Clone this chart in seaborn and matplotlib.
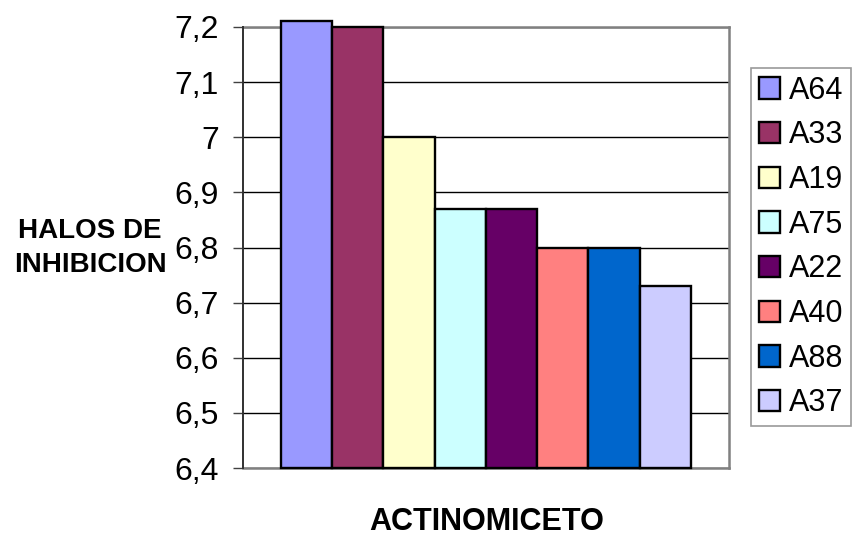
import matplotlib
matplotlib.use("Agg")
import matplotlib.pyplot as plt
import pandas as pd
import seaborn as sns

# Inhibition halo per actinomycete strain
strains = ["A64", "A33", "A19", "A75", "A22", "A40", "A88", "A37"]
halos = [7.21, 7.2, 7.0, 6.87, 6.87, 6.8, 6.8, 6.73]
colors = ["#9999FF", "#993366", "#FFFFCC", "#CCFFFF",
          "#660066", "#FF8080", "#0066CC", "#CCCCFF"]
group = "ACTINOMICETO"
y_ticks = [6.4, 6.5, 6.6, 6.7, 6.8, 6.9, 7.0, 7.1, 7.2]

df = pd.DataFrame({"grupo": [group] * len(strains),
                   "cepa": strains,
                   "halo": halos})

sns.set_theme(style="white")
plt.rcParams["font.family"] = ["Liberation Sans", "DejaVu Sans"]
plt.rcParams["text.color"] = "black"

W, H = 853, 540
fig = plt.figure(figsize=(W / 100, H / 100), dpi=100)
ax = fig.add_axes([243 / W, 72 / H, 486 / W, 441 / H])

sns.barplot(data=df, x="grupo", y="halo", hue="cepa", hue_order=strains,
            palette=colors, saturation=1, width=410 / 486, errorbar=None,
            edgecolor="black", linewidth=1.7, legend=False, ax=ax, zorder=3)

# bars rise from the bottom of the value axis
base = y_ticks[0]
bars = list(ax.patches)
for p in bars:
    top = p.get_y() + p.get_height()
    p.set_y(base)
    p.set_height(top - base)
    p.set_clip_on(False)

ax.set_xlim(-0.5, 0.5)
ax.set_ylim(y_ticks[0], y_ticks[-1])
ax.set_yticks(y_ticks)
ax.set_yticklabels([f"{round(v, 1):g}".replace(".", ",") for v in y_ticks])
ax.set_xticks([])
ax.set_xlabel("")
ax.set_ylabel("")

ax.yaxis.grid(True, color="black", linewidth=1.0, zorder=1)
ax.set_axisbelow(True)
for side in ["top", "right", "bottom"]:
    ax.spines[side].set_color("#808080")
    ax.spines[side].set_linewidth(1.8)
    ax.spines[side].set_zorder(2)
ax.spines["left"].set_color("#303030")
ax.spines["left"].set_linewidth(1.4)

ax.tick_params(axis="y", direction="out", length=7, width=1.0,
               color="#404040", pad=10.5, labelsize=23, labelcolor="black",
               left=True)

fig.text(90 / W, 1 - 248 / H, "HALOS DE\nINHIBICION", ha="center",
         va="center", multialignment="center", fontsize=20,
         fontweight="bold", linespacing=1.4, color="black")
fig.text(487 / W, 1 - 522 / H, group, ha="center", va="center",
         fontsize=22, fontweight="bold", color="black")

leg = fig.legend(bars, strains, loc="upper left",
                 bbox_to_anchor=(751 / W, 1 - 68 / H), borderaxespad=0,
                 frameon=True, fancybox=False, fontsize=22,
                 handlelength=0.7, handleheight=0.7, handletextpad=0.3,
                 labelspacing=0.48, borderpad=0.25)
leg.get_frame().set_edgecolor("#808080")
leg.get_frame().set_linewidth(1.2)
leg.get_frame().set_facecolor("white")
for t in leg.get_texts():
    t.set_color("black")

fig.savefig("out.png", dpi=100)
